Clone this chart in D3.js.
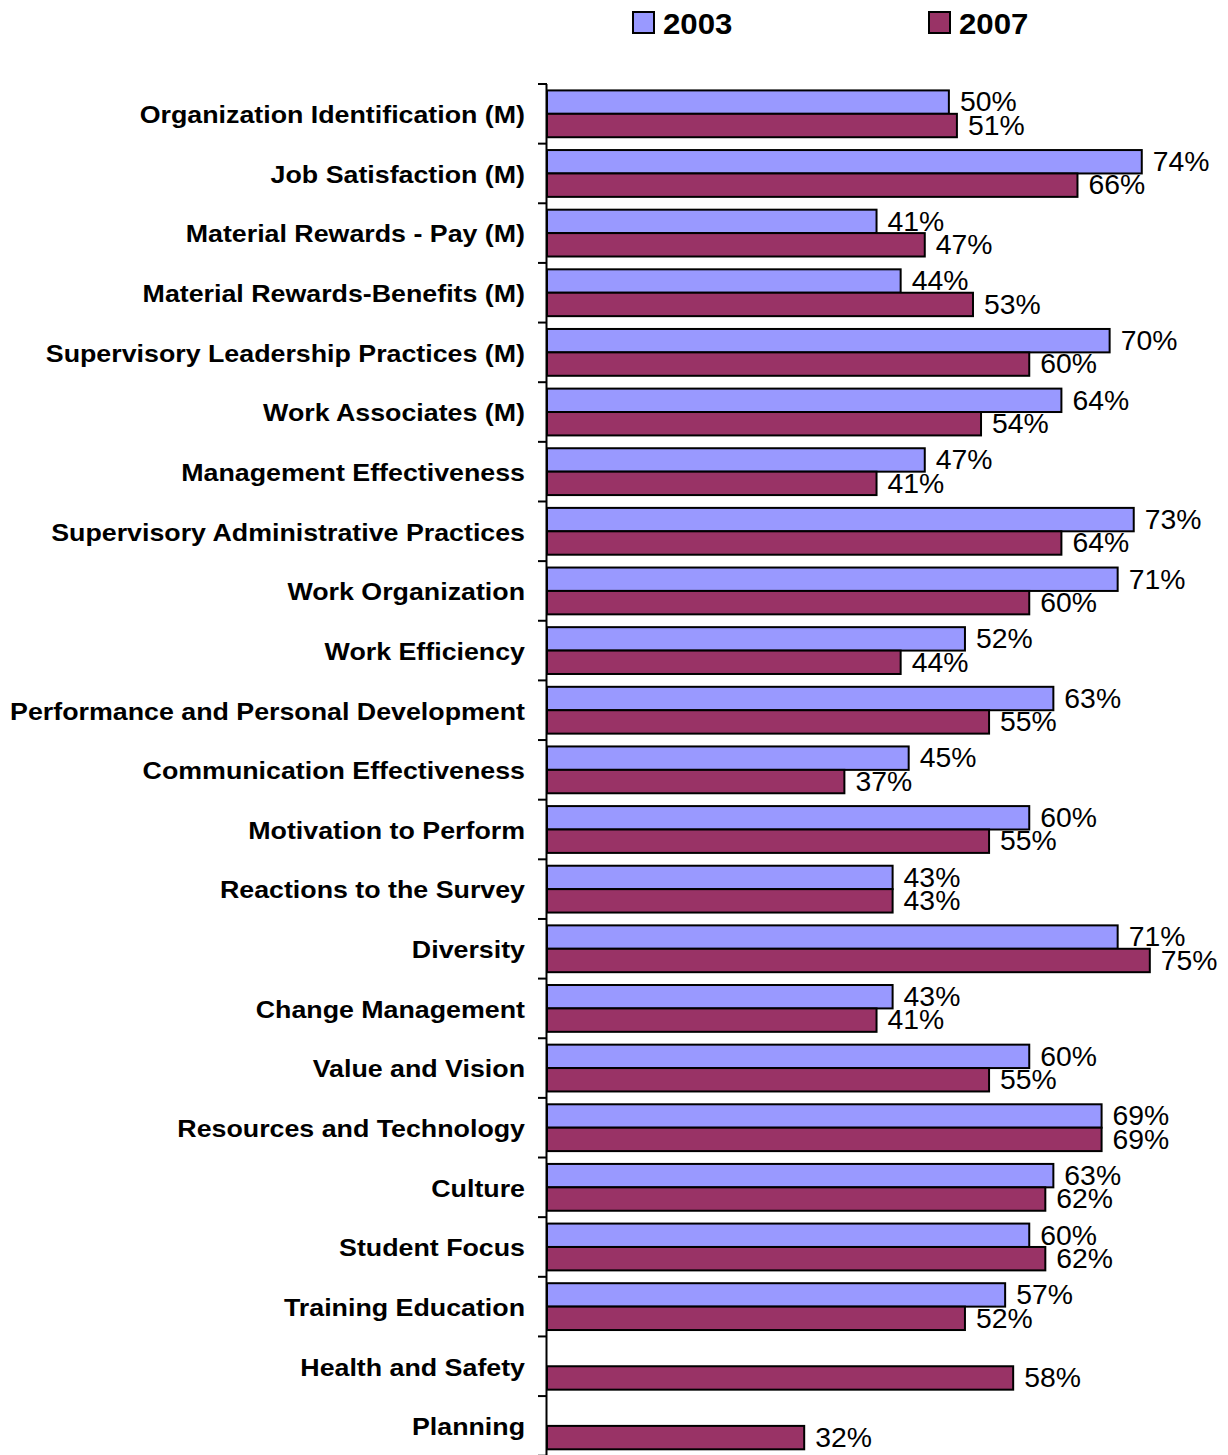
<!DOCTYPE html>
<html>
<head>
<meta charset="utf-8">
<script src="https://cdn.jsdelivr.net/npm/d3@7"></script>
<style>
  html, body { margin: 0; padding: 0; background: #fff; }
  svg { display: block; }
  text { font-family: "Liberation Sans", Arial, sans-serif; fill: #000; }
</style>
</head>
<body>
<svg id="chart" width="1228" height="1455"></svg>
<script>
// Survey dimensions, favourable response share (%)
const categories = [
  "Organization Identification (M)",
  "Job Satisfaction (M)",
  "Material Rewards - Pay (M)",
  "Material Rewards-Benefits (M)",
  "Supervisory Leadership Practices (M)",
  "Work Associates (M)",
  "Management Effectiveness",
  "Supervisory Administrative Practices",
  "Work Organization",
  "Work Efficiency",
  "Performance and Personal Development",
  "Communication Effectiveness",
  "Motivation to Perform",
  "Reactions to the Survey",
  "Diversity",
  "Change Management",
  "Value and Vision",
  "Resources and Technology",
  "Culture",
  "Student Focus",
  "Training Education",
  "Health and Safety",
  "Planning"
];
const values2003 = [50, 74, 41, 44, 70, 64, 47, 73, 71, 52, 63, 45, 60, 43, 71, 43, 60, 69, 63, 60, 57, null, null];
const values2007 = [51, 66, 47, 53, 60, 54, 41, 64, 60, 44, 55, 37, 55, 43, 75, 41, 55, 69, 62, 62, 52, 58, 32];
const seriesNames = ["2003", "2007"];
const seriesColors = ["#9999FF", "#993366"];

const svg = d3.select("#chart");

const x = d3.scaleLinear().domain([0, 80]).range([547, 1190]);
const y = d3.scaleBand().domain(categories).range([84, 84 + 23 * 59.64]).paddingInner(0.215).paddingOuter(0.1075);
const sub = d3.scaleBand().domain(seriesNames).range([0, y.bandwidth()]);

const rows = categories.map((c, i) => ({ cat: c, vals: [values2003[i], values2007[i]] }));

// Bars with value labels
const groups = svg.append("g").selectAll("g.row").data(rows).join("g")
  .attr("transform", d => `translate(0,${y(d.cat)})`);

seriesNames.forEach((s, si) => {
  const withVal = groups.filter(d => d.vals[si] != null);
  withVal.append("rect")
    .attr("x", x(0))
    .attr("y", sub(s))
    .attr("width", d => x(d.vals[si]) - x(0))
    .attr("height", sub.bandwidth())
    .attr("fill", seriesColors[si])
    .attr("stroke", "#000")
    .attr("stroke-width", 2);
  withVal.append("text")
    .attr("transform", d => `translate(${x(d.vals[si]) + 11},${sub(s) + sub.bandwidth() / 2}) scale(1.05,1)`)
    .attr("dominant-baseline", "central")
    .attr("font-size", 27)
    .text(d => d.vals[si] + "%");
});

// Category axis
const axisG = svg.append("g");
const edges = d3.range(categories.length + 1).map(i => 84 + i * 59.64);
axisG.append("line")
  .attr("x1", 546.5).attr("x2", 546.5)
  .attr("y1", edges[0]).attr("y2", edges[edges.length - 1])
  .attr("stroke", "#000").attr("stroke-width", 2);
axisG.selectAll("line.tick").data(edges).join("line")
  .attr("class", "tick")
  .attr("x1", 538).attr("x2", 547)
  .attr("y1", d => d).attr("y2", d => d)
  .attr("stroke", "#000").attr("stroke-width", 2);
axisG.selectAll("text.cat").data(categories).join("text")
  .attr("class", "cat")
  .attr("transform", d => `translate(525,${y(d) + y.bandwidth() / 2 + 1}) scale(1.165,1)`)
  .attr("text-anchor", "end")
  .attr("dominant-baseline", "central")
  .attr("font-size", 23)
  .attr("font-weight", "bold")
  .text(d => d);

// Legend
const legendX = [633, 929];
const legend = svg.append("g").selectAll("g").data(seriesNames).join("g")
  .attr("transform", (d, i) => `translate(${legendX[i]},12)`);
legend.append("rect")
  .attr("width", 21).attr("height", 21)
  .attr("fill", (d, i) => seriesColors[i])
  .attr("stroke", "#000").attr("stroke-width", 2);
legend.append("text")
  .attr("transform", "translate(30,11) scale(1.04,1)")
  .attr("dominant-baseline", "central")
  .attr("font-size", 30)
  .attr("font-weight", "bold")
  .text(d => d);
</script>
</body>
</html>
